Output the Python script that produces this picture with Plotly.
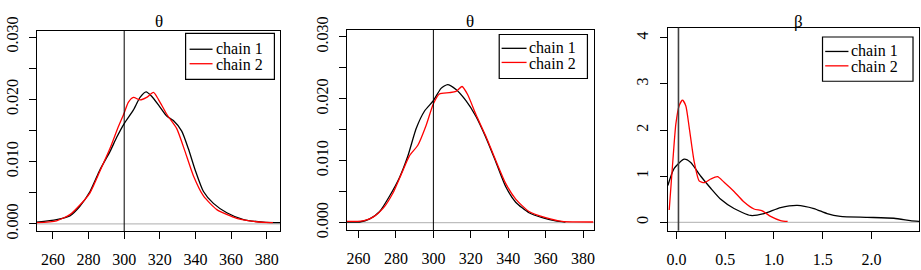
import plotly.graph_objects as go

# ---------------- data ----------------
# Panel 1: theta
p1_chain1_x = [250.8, 262, 269.5, 275, 280.8, 286.4, 292, 295.8, 300, 305.2, 308.9, 312.3, 315.4, 320,
               323.9, 327.6, 332.3, 336, 339.8, 344.5, 350.1, 357.6, 367, 378, 388.5]
p1_chain1_y = [0.0003, 0.0007, 0.0013, 0.0028, 0.0052, 0.0087, 0.0116, 0.0139, 0.0161, 0.0183, 0.0203,
               0.0212, 0.0205, 0.0188, 0.0173, 0.0166, 0.0149, 0.0121, 0.0087, 0.0052, 0.0033, 0.0018,
               0.0007, 0.0003, 0.0002]
p1_chain2_x = [250.8, 262, 269.5, 275, 280.8, 286.4, 292, 296.7, 300, 302.3, 305.2, 308.9, 312.6, 316.4,
               319.2, 323.9, 329.5, 334.2, 338.9, 344.5, 352, 363.2, 372.6, 381.9, 383.5]
p1_chain2_y = [0.0002, 0.0005, 0.0015, 0.0030, 0.0050, 0.0085, 0.0121, 0.0156, 0.0178, 0.0195, 0.0203,
               0.0199, 0.0203, 0.0211, 0.0200, 0.0176, 0.0153, 0.0116, 0.0077, 0.0045, 0.0023, 0.0009,
               0.0004, 0.0002, 0.0002]

# Panel 2: theta
p2_chain1_x = [253.6, 260.6, 266, 271.3, 276.6, 281.9, 286.4, 290.8, 295.2, 300, 304.1, 307.6, 312.1,
               317.4, 322.7, 328, 333.4, 338.7, 344, 351.1, 358.2, 365.3, 370.6]
p2_chain1_y = [0.0001, 0.0001, 0.0006, 0.0018, 0.0043, 0.0073, 0.0108, 0.0152, 0.0180, 0.0197, 0.0217,
               0.0223, 0.0215, 0.0197, 0.0172, 0.0138, 0.0098, 0.0058, 0.0033, 0.0016, 0.0008, 0.0003,
               0.0001]
p2_chain2_x = [253.6, 262.4, 267.8, 273.1, 278.4, 282.8, 287.2, 291.7, 296.1, 300, 303.2, 308.5, 312.1,
               315.3, 318.3, 322.7, 328, 333.4, 338.7, 344, 351.1, 360, 368.8, 385.5]
p2_chain2_y = [0.0002, 0.0003, 0.0009, 0.0023, 0.0048, 0.0078, 0.0108, 0.0125, 0.0157, 0.0192, 0.0208,
               0.0210, 0.0212, 0.0220, 0.0207, 0.0175, 0.0140, 0.0100, 0.0063, 0.0038, 0.0018, 0.0008,
               0.0002, 0.0001]

# Panel 3: beta
p3_chain1_x = [-0.089, -0.024, 0.079, 0.146, 0.249, 0.351, 0.454, 0.59, 0.76, 0.898, 1.068, 1.24, 1.41,
               1.545, 1.68, 1.955, 2.23, 2.40, 2.49]
p3_chain1_y = [0.80, 1.17, 1.37, 1.30, 1.00, 0.74, 0.50, 0.30, 0.15, 0.19, 0.32, 0.37, 0.30, 0.19, 0.13,
               0.11, 0.09, 0.04, 0.02]
p3_chain2_x = [-0.075, -0.04, -0.007, 0.027, 0.061, 0.095, 0.13, 0.18, 0.232, 0.283, 0.351, 0.42, 0.488,
               0.59, 0.693, 0.795, 0.88, 0.965, 1.068, 1.14]
p3_chain2_y = [0.27, 1.27, 2.13, 2.53, 2.65, 2.53, 2.06, 1.33, 0.90, 0.86, 0.94, 0.99, 0.87, 0.67, 0.44,
               0.29, 0.25, 0.13, 0.04, 0.02]

# reference (true) values drawn as vertical lines
true_theta = 300
true_beta = 0.02

panel_titles = ["θ", "θ", "β"]
series_names = ["chain 1", "chain 2"]

theta_xticks = [260, 280, 300, 320, 340, 360, 380]
theta_yticks = [0.000, 0.005, 0.010, 0.015, 0.020, 0.025, 0.030]
theta_yticklabels = ["0.000", "", "0.010", "", "0.020", "", "0.030"]
beta_xticks = [0.0, 0.5, 1.0, 1.5, 2.0]
beta_xticklabels = ["0.0", "0.5", "1.0", "1.5", "2.0"]
beta_yticks = [0, 1, 2, 3, 4]
beta_yticklabels = ["0", "1", "2", "3", "4"]

# ---------------- figure ----------------
FONT = "Liberation Serif"
W, H = 921, 270

fig = go.Figure()

panels = [
    dict(xa="x", ya="y", data=[(p1_chain1_x, p1_chain1_y), (p1_chain2_x, p1_chain2_y)]),
    dict(xa="x2", ya="y2", data=[(p2_chain1_x, p2_chain1_y), (p2_chain2_x, p2_chain2_y)]),
    dict(xa="x3", ya="y3", data=[(p3_chain1_x, p3_chain1_y), (p3_chain2_x, p3_chain2_y)]),
]
colors = ["#000000", "#ff0000"]

for p in panels:
    for (xs, ys), name, col in zip(p["data"], series_names, colors):
        fig.add_trace(go.Scatter(
            x=xs, y=ys, mode="lines", name=name,
            line=dict(color=col, width=1.3, shape="spline", smoothing=0.6),
            xaxis=p["xa"], yaxis=p["ya"], showlegend=False,
        ))

# pixel-based layout of the three panels
def px_x(v):
    return v / W

def px_y(v):
    return (H - v) / H

frames = [
    dict(l=36, r=280, t=19, b=236.7),
    dict(l=346.7, r=594, t=18.3, b=235.3),
    dict(l=668.3, r=920, t=16, b=236),
]

common_axis = dict(
    showline=True, linecolor="black", linewidth=1, mirror=True,
    ticks="outside", ticklen=7, tickcolor="black", tickwidth=1,
    showgrid=False, zeroline=False,
    tickfont=dict(family=FONT, size=16, color="black"),
    fixedrange=True,
)

x_ranges = [[251.0, 387.7], [253.8, 385.7], [-0.089, 2.488]]
y_ranges = [[-0.00118, 0.03104], [-0.00119, 0.03115], [-0.179, 4.219]]

for i, fr in enumerate(frames):
    sfx = "" if i == 0 else str(i + 1)
    xk, yk = "xaxis" + sfx, "yaxis" + sfx
    if i < 2:
        xt = dict(tickvals=theta_xticks, ticktext=[str(v) for v in theta_xticks])
        yt = dict(tickvals=theta_yticks, ticktext=theta_yticklabels)
    else:
        xt = dict(tickvals=beta_xticks, ticktext=beta_xticklabels)
        yt = dict(tickvals=beta_yticks, ticktext=beta_yticklabels)
    fig.layout[xk] = dict(common_axis, domain=[px_x(fr["l"]), px_x(fr["r"])],
                          range=x_ranges[i], anchor="y" + sfx, ticklabelstandoff=7, **xt)
    fig.layout[yk] = dict(common_axis, domain=[px_y(fr["b"]), px_y(fr["t"])],
                          range=y_ranges[i], anchor="x" + sfx, tickangle=-90,
                          ticklabelstandoff=5, **yt)

# reference lines
shapes = []
for i, tv in enumerate([true_theta, true_theta, true_beta]):
    sfx = "" if i == 0 else str(i + 1)
    shapes.append(dict(type="line", xref="x" + sfx + " domain", x0=0, x1=1, yref="y" + sfx, y0=0, y1=0,
                       line=dict(color="#bebebe", width=1.2), layer="below"))
    shapes.append(dict(type="line", xref="x" + sfx, x0=tv, x1=tv, yref="y" + sfx + " domain", y0=0, y1=1,
                       line=dict(color="black" if i < 2 else "#404040", width=1 if i < 2 else 1.6),
                       layer="above"))

# titles
annotations = []
title_x = [158, 470, 799]
for tx, t in zip(title_x, panel_titles):
    annotations.append(dict(text=t, x=px_x(tx), y=px_y(9), xref="paper", yref="paper",
                            xanchor="center", yanchor="middle", showarrow=False,
                            font=dict(family=FONT, size=17, color="black")))

# legends (one per panel, drawn as a boxed key in the top-right corner)
legend_boxes = [
    dict(l=185, t=22, r=274, b=72, s0=189, s1=212, tx=214, y=(39.3, 55)),
    dict(l=499.3, t=23.3, r=587.7, b=71, s0=501.7, s1=526.7, tx=528.5, y=(38.3, 53.6)),
    dict(l=823.3, t=26, r=914, b=74, s0=826, s1=849.3, tx=850.5, y=(41.7, 57.3)),
]
# the two key lines sit ~15.6 px apart (R legend spacing); a 12 px base font gives that
# line pitch while each line is shown at 16 px
legend_text = "<br>".join('<span style="font-size:16px">%s</span>' % n for n in series_names)
for lb in legend_boxes:
    shapes.append(dict(type="rect", xref="paper", yref="paper",
                       x0=px_x(lb["l"]), x1=px_x(lb["r"]), y0=px_y(lb["b"]), y1=px_y(lb["t"]),
                       line=dict(color="black", width=1.2), fillcolor="white", layer="above"))
    for name, col, yy in zip(series_names, colors, lb["y"]):
        shapes.append(dict(type="line", xref="paper", yref="paper",
                           x0=px_x(lb["s0"]), x1=px_x(lb["s1"]), y0=px_y(yy), y1=px_y(yy),
                           line=dict(color=col, width=1.3), layer="above"))
    ymid = (lb["y"][0] + lb["y"][1]) / 2
    annotations.append(dict(text=legend_text, x=px_x(lb["tx"]), y=px_y(ymid), xref="paper", yref="paper",
                            xanchor="left", yanchor="middle", align="left", showarrow=False,
                            borderpad=0,
                            font=dict(family=FONT, size=12, color="black")))

fig.update_layout(
    width=W, height=H, autosize=False,
    margin=dict(l=0, r=0, t=0, b=0),
    paper_bgcolor="white", plot_bgcolor="white",
    shapes=shapes, annotations=annotations,
    showlegend=False,
    font=dict(family=FONT, size=16, color="black"),
)

fig.write_html("out.html",
               config={"displayModeBar": False, "staticPlot": True},
               post_script="document.body.style.margin='0px';document.body.style.padding='0px';"
                           "document.body.style.overflow='hidden';")
